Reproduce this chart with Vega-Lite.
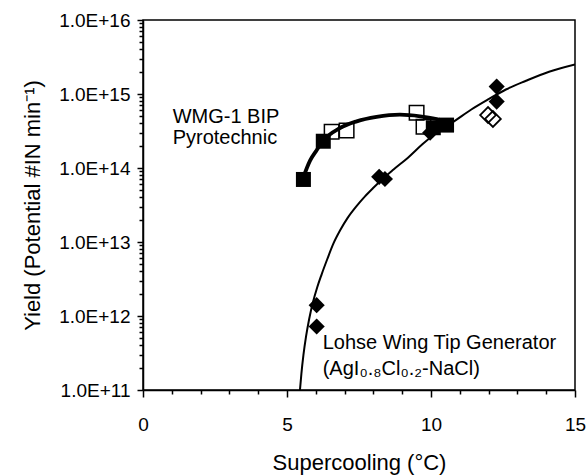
{
  "$schema": "https://vega.github.io/schema/vega-lite/v6.json",
  "autosize": "none",
  "padding": {"left": 143, "top": 20, "right": 11, "bottom": 85},
  "width": 432,
  "height": 370,
  "background": "white",
  "config": {
    "view": {"stroke": "black", "strokeWidth": 1.5},
    "font": "Liberation Sans",
    "axis": {
      "grid": false,
      "domainColor": "black",
      "domainWidth": 1.5,
      "tickColor": "black",
      "tickWidth": 1.5,
      "labelColor": "black",
      "titleColor": "black",
      "labelFont": "Liberation Sans",
      "titleFont": "Liberation Sans",
      "labelFontSize": 19,
      "titleFontSize": 22,
      "titleFontWeight": "normal",
      "labelOverlap": false,
      "labelBound": false,
      "labelFlush": false
    }
  },
  "datasets": {
    "fits": [
      {"x": 5.45, "y": 1.0e11, "curve": "Lohse"},
      {"x": 5.5, "y": 1.66e11, "curve": "Lohse"},
      {"x": 5.57, "y": 2.95e11, "curve": "Lohse"},
      {"x": 5.66, "y": 5.25e11, "curve": "Lohse"},
      {"x": 5.77, "y": 9.12e11, "curve": "Lohse"},
      {"x": 5.91, "y": 1.58e12, "curve": "Lohse"},
      {"x": 6.05, "y": 2.45e12, "curve": "Lohse"},
      {"x": 6.2, "y": 3.63e12, "curve": "Lohse"},
      {"x": 6.4, "y": 5.89e12, "curve": "Lohse"},
      {"x": 6.61, "y": 9.5e12, "curve": "Lohse"},
      {"x": 6.85, "y": 1.45e13, "curve": "Lohse"},
      {"x": 7.1, "y": 2.1e13, "curve": "Lohse"},
      {"x": 7.4, "y": 3.0e13, "curve": "Lohse"},
      {"x": 7.7, "y": 4.1e13, "curve": "Lohse"},
      {"x": 8.0, "y": 5.4e13, "curve": "Lohse"},
      {"x": 8.3, "y": 7.0e13, "curve": "Lohse"},
      {"x": 8.7, "y": 9.55e13, "curve": "Lohse"},
      {"x": 9.2, "y": 1.38e14, "curve": "Lohse"},
      {"x": 9.7, "y": 2.09e14, "curve": "Lohse"},
      {"x": 10.2, "y": 3.02e14, "curve": "Lohse"},
      {"x": 10.8, "y": 4.27e14, "curve": "Lohse"},
      {"x": 11.4, "y": 6.17e14, "curve": "Lohse"},
      {"x": 12.0, "y": 8.51e14, "curve": "Lohse"},
      {"x": 12.6, "y": 1.15e15, "curve": "Lohse"},
      {"x": 13.3, "y": 1.51e15, "curve": "Lohse"},
      {"x": 14.1, "y": 2.0e15, "curve": "Lohse"},
      {"x": 15.0, "y": 2.51e15, "curve": "Lohse"},
      {"x": 5.55, "y": 7.2e13, "curve": "WMG"},
      {"x": 5.8, "y": 1.26e14, "curve": "WMG"},
      {"x": 6.03, "y": 1.74e14, "curve": "WMG"},
      {"x": 6.26, "y": 2.34e14, "curve": "WMG"},
      {"x": 6.84, "y": 3.47e14, "curve": "WMG"},
      {"x": 7.42, "y": 4.27e14, "curve": "WMG"},
      {"x": 8.11, "y": 4.9e14, "curve": "WMG"},
      {"x": 8.92, "y": 5.25e14, "curve": "WMG"},
      {"x": 9.62, "y": 5.0e14, "curve": "WMG"},
      {"x": 10.2, "y": 4.57e14, "curve": "WMG"},
      {"x": 10.6, "y": 4.17e14, "curve": "WMG"}
    ],
    "obs": [
      {"x": 9.5, "y": 5.6e14, "type": "open square"},
      {"x": 9.74, "y": 3.6e14, "type": "open square"},
      {"x": 6.55, "y": 3.1e14, "type": "open square"},
      {"x": 7.07, "y": 3.2e14, "type": "open square"},
      {"x": 11.98, "y": 5.2e14, "type": "open diamond"},
      {"x": 12.15, "y": 4.6e14, "type": "open diamond"},
      {"x": 5.57, "y": 7.0e13, "type": "filled square"},
      {"x": 6.26, "y": 2.3e14, "type": "filled square"},
      {"x": 10.08, "y": 3.5e14, "type": "filled square"},
      {"x": 10.54, "y": 3.8e14, "type": "filled square"},
      {"x": 6.03, "y": 1.4e12, "type": "filled diamond"},
      {"x": 6.03, "y": 7.2e11, "type": "filled diamond"},
      {"x": 8.2, "y": 7.6e13, "type": "filled diamond"},
      {"x": 8.4, "y": 7.1e13, "type": "filled diamond"},
      {"x": 9.97, "y": 3.0e14, "type": "filled diamond"},
      {"x": 12.28, "y": 1.26e15, "type": "filled diamond"},
      {"x": 12.28, "y": 7.9e14, "type": "filled diamond"}
    ],
    "notes": [
      {"x": 1.03, "y": 4.02e14, "text": "WMG-1 BIP"},
      {"x": 1.03, "y": 2.09e14, "text": "Pyrotechnic"},
      {"x": 6.24, "y": 3.55e11, "text": "Lohse Wing Tip Generator"},
      {"x": 6.24, "y": 1.58e11, "text": "(AgI₀.₈Cl₀.₂-NaCl)"}
    ]
  },
  "resolve": {"axis": {"x": "independent", "y": "independent"}},
  "layer": [
    {
      "encoding": {
        "x": {
          "field": "x", "type": "quantitative",
          "scale": {"domain": [0, 15], "nice": false, "zero": false},
          "axis": {
            "title": "Supercooling (°C)",
            "values": [0, 5, 10, 15],
            "tickSize": 7,
            "labelPadding": 18,
            "titlePadding": 18
          }
        },
        "y": {
          "field": "y", "type": "quantitative",
          "scale": {"type": "log", "domain": [1e11, 1e16], "nice": false},
          "axis": {
            "title": "Yield (Potential #IN min⁻¹)",
            "values": [1e11, 1e12, 1e13, 1e14, 1e15, 1e16],
            "labelExpr": "'1.0E+' + round(log(datum.value)/LN10)",
            "tickSize": 6,
            "labelPadding": 7,
            "titlePadding": 14
          }
        }
      },
      "layer": [
        {
          "data": {"name": "fits"},
          "transform": [{"filter": "datum.curve === 'Lohse'"}],
          "mark": {"type": "line", "color": "black", "strokeWidth": 2, "interpolate": "monotone", "clip": true}
        },
        {
          "data": {"name": "fits"},
          "transform": [{"filter": "datum.curve === 'WMG'"}],
          "mark": {"type": "line", "color": "black", "strokeWidth": 3.8, "interpolate": "monotone", "clip": true}
        },
        {
          "data": {"name": "obs"},
          "transform": [{"filter": "datum.type === 'open square'"}],
          "mark": {"type": "point", "shape": "square", "filled": false, "stroke": "black", "strokeWidth": 1.5, "size": 210, "opacity": 1}
        },
        {
          "data": {"name": "obs"},
          "transform": [{"filter": "datum.type === 'open diamond'"}],
          "mark": {"type": "point", "shape": "diamond", "filled": false, "stroke": "black", "strokeWidth": 1.8, "size": 250, "opacity": 1}
        },
        {
          "data": {"name": "obs"},
          "transform": [{"filter": "datum.type === 'filled square'"}],
          "mark": {"type": "point", "shape": "square", "filled": true, "color": "black", "size": 225, "opacity": 1}
        },
        {
          "data": {"name": "obs"},
          "transform": [{"filter": "datum.type === 'filled diamond'"}],
          "mark": {"type": "point", "shape": "diamond", "filled": true, "color": "black", "size": 260, "opacity": 1}
        },
        {
          "data": {"name": "notes"},
          "mark": {"type": "text", "align": "left", "baseline": "alphabetic", "fontSize": 20, "font": "Liberation Sans", "color": "black"},
          "encoding": {"text": {"field": "text"}}
        }
      ]
    },
    {
      "data": {"name": "notes"},
      "mark": {"type": "point", "opacity": 0},
      "encoding": {
        "x": {
          "field": "x", "type": "quantitative",
          "scale": {"domain": [0, 15], "nice": false, "zero": false},
          "axis": {
            "orient": "bottom",
            "title": null,
            "labels": false,
            "domain": false,
            "values": [1, 2, 3, 4, 6, 7, 8, 9, 11, 12, 13, 14],
            "tickSize": 4,
            "tickColor": "black"
          }
        },
        "y": {
          "field": "y", "type": "quantitative",
          "scale": {"type": "log", "domain": [1e11, 1e16], "nice": false},
          "axis": {
            "orient": "left",
            "title": null,
            "labels": false,
            "domain": false,
            "values": [2e11,3e11,4e11,5e11,6e11,7e11,8e11,9e11,2e12,3e12,4e12,5e12,6e12,7e12,8e12,9e12,2e13,3e13,4e13,5e13,6e13,7e13,8e13,9e13,2e14,3e14,4e14,5e14,6e14,7e14,8e14,9e14,2e15,3e15,4e15,5e15,6e15,7e15,8e15,9e15],
            "tickSize": 4,
            "tickColor": "black"
          }
        }
      }
    }
  ]
}
